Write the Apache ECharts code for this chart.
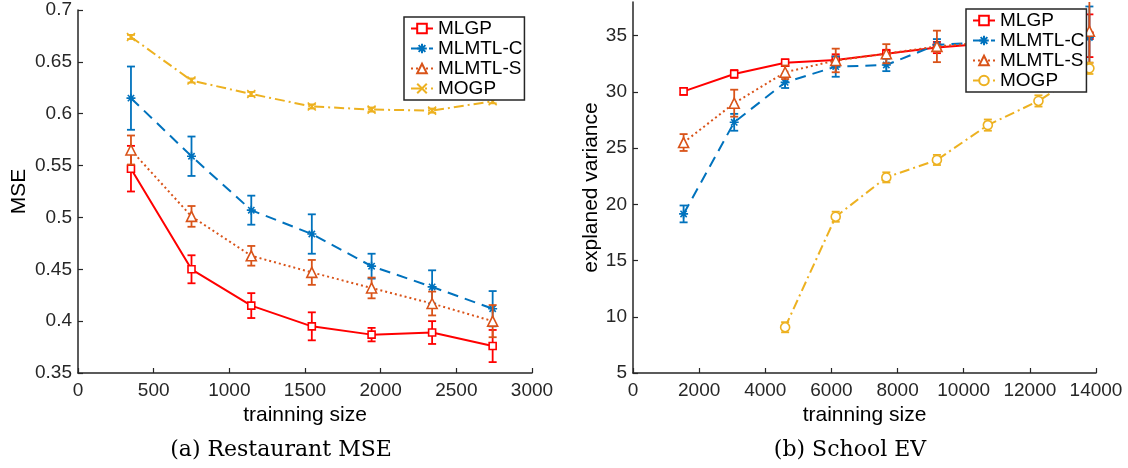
<!DOCTYPE html>
<html>
<head>
<meta charset="utf-8">
<script src="https://cdn.jsdelivr.net/npm/echarts@6/dist/echarts.min.js"></script>
<style>
  html, body { margin: 0; background: #fff; }
  #chart { width: 1128px; height: 468px; }
</style>
</head>
<body>
<div id="chart"></div>
<script>
// (a) Restaurant MSE
var restSize = [350, 750, 1145, 1545, 1940, 2340, 2740];
var restMLGP = [0.547, 0.450, 0.415, 0.395, 0.387, 0.389, 0.376];
var restMLGPErr = [0.022, 0.0135, 0.012, 0.0135, 0.0065, 0.011, 0.0155];
var restMLMTLC = [0.615, 0.559, 0.507, 0.484, 0.453, 0.433, 0.412];
var restMLMTLCErr = [0.0305, 0.019, 0.014, 0.019, 0.012, 0.016, 0.017];
var restMLMTLS = [0.565, 0.501, 0.463, 0.447, 0.432, 0.417, 0.400];
var restMLMTLSErr = [0.014, 0.010, 0.0095, 0.012, 0.010, 0.0115, 0.0155];
var restMOGP = [0.674, 0.632, 0.619, 0.607, 0.604, 0.603, 0.612];
var restMOGPErr = [0.002, 0.002, 0.002, 0.002, 0.002, 0.002, 0.002];

// (b) School EV
var schoolSize = [1530, 3060, 4600, 6130, 7660, 9190, 10730, 12260, 13800];
var schoolMLGP = [30.05, 31.6, 32.6, 32.85, 33.4, 33.95, 34.3, 34.6, 35.0];
var schoolMLGPErr = [0.3, 0.35, 0.3, 0.5, 0.35, 0.5, 0.4, 0.4, 1.9];
var schoolMLMTLC = [19.15, 27.3, 30.85, 32.25, 32.4, 34.2, 34.4, 34.6, 34.85];
var schoolMLMTLCErr = [0.75, 0.75, 0.5, 0.9, 0.55, 0.5, 0.3, 0.3, 2.75];
var schoolMLMTLS = [25.5, 29.0, 31.75, 32.8, 33.4, 34.05, 34.4, 34.7, 35.4];
var schoolMLMTLSErr = [0.75, 1.2, 0.6, 1.05, 0.85, 1.4, 0.3, 0.3, 2.8];
var schoolMOGP = [null, null, 9.07, 18.9, 22.4, 23.95, 27.05, 29.2, 32.1];
var schoolMOGPErr = [null, null, 0.45, 0.45, 0.45, 0.45, 0.5, 0.5, 0.5];
var schoolYTicks = [5, 10, 15, 20, 25, 30, 35];

var methods = ['MLGP', 'MLMTL-C', 'MLMTL-S', 'MOGP'];

var FONT = '"Liberation Sans", Arial, Helvetica, sans-serif';
var AXIS_COLOR = '#262626';
var RED = '#FF0000', BLUE = '#0072BD', ORANGE = '#D95319', YELLOW = '#EDB120';
var STAR = 'path://M5,0L5,10M0,5L10,5M1.5,1.5L8.5,8.5M1.5,8.5L8.5,1.5';
var CROSS = 'path://M0,0L10,10M0,10L10,0';

function points(xs, ys) {
  var out = [];
  for (var i = 0; i < xs.length; i++) {
    if (ys[i] != null) out.push([xs[i], ys[i]]);
  }
  return out;
}

function bars(xs, ys, errs) {
  var out = [];
  for (var i = 0; i < xs.length; i++) {
    if (ys[i] != null) out.push([xs[i], ys[i] - errs[i], ys[i] + errs[i]]);
  }
  return out;
}

function plain(v) {
  return String(v);
}

function errorBar(color) {
  return function (params, api) {
    var x = api.value(0);
    var lo = api.coord([x, api.value(1)]);
    var hi = api.coord([x, api.value(2)]);
    var half = 4;
    var style = { stroke: color, lineWidth: 1.8 };
    return {
      type: 'group',
      children: [
        { type: 'line', shape: { x1: lo[0], y1: lo[1], x2: hi[0], y2: hi[1] }, style: style },
        { type: 'line', shape: { x1: lo[0] - half, y1: lo[1], x2: lo[0] + half, y2: lo[1] }, style: style },
        { type: 'line', shape: { x1: hi[0] - half, y1: hi[1], x2: hi[0] + half, y2: hi[1] }, style: style }
      ]
    };
  };
}

function lineSeries(name, grid, data, color, dash, symbol, size, z) {
  return {
    name: name,
    type: 'line',
    xAxisIndex: grid,
    yAxisIndex: grid,
    data: data,
    color: color,
    symbol: symbol,
    symbolSize: size,
    showAllSymbol: true,
    lineStyle: { color: color, width: 2, type: dash },
    itemStyle: { color: '#fff', borderColor: color, borderWidth: 1.6 },
    emphasis: { disabled: true },
    z: z
  };
}

function barSeries(name, grid, data, color, z) {
  return {
    name: name,
    type: 'custom',
    xAxisIndex: grid,
    yAxisIndex: grid,
    data: data,
    encode: { x: 0, y: [1, 2] },
    renderItem: errorBar(color),
    clip: true,
    silent: true,
    z: z
  };
}

function xAxis(grid, max, interval) {
  return {
    gridIndex: grid,
    type: 'value',
    min: 0,
    max: max,
    interval: interval,
    name: 'trainning size',
    nameLocation: 'middle',
    nameGap: 27,
    nameTextStyle: { fontSize: 21, fontFamily: FONT, color: '#000' },
    axisLine: { lineStyle: { color: AXIS_COLOR, width: 1.5 } },
    axisTick: { inside: true, length: 5, lineStyle: { color: AXIS_COLOR, width: 1.2 } },
    axisLabel: { fontSize: 19, fontFamily: FONT, color: AXIS_COLOR, margin: 8, formatter: plain },
    splitLine: { show: false }
  };
}

function legend(left, top, names) {
  return {
    left: left,
    top: top,
    orient: 'vertical',
    data: names,
    formatter: function (n) { return n.split('|')[0]; },
    backgroundColor: '#fff',
    borderColor: AXIS_COLOR,
    borderWidth: 1.5,
    borderRadius: 0,
    padding: [2, 2, 2, 6],
    itemWidth: 22,
    itemHeight: 12,
    itemGap: 1,
    selectedMode: false,
    textStyle: { fontSize: 19, lineHeight: 19, fontFamily: FONT, color: '#000' },
    z: 10
  };
}

var schoolNames = methods.map(function (m) { return m + '|b'; });

var myChart = echarts.init(document.getElementById('chart'));

var option = {
  animation: false,
  backgroundColor: '#fff',
  grid: [
    { left: 78, top: 10, width: 454, height: 363 },
    { left: 633, top: 2, width: 463, height: 371 }
  ],
  xAxis: [xAxis(0, 3000, 500), xAxis(1, 14000, 2000)],
  yAxis: [
    {
      gridIndex: 0,
      type: 'value',
      min: 0.35,
      max: 0.7,
      interval: 0.05,
      name: 'MSE',
      nameLocation: 'middle',
      nameGap: 48,
      nameTextStyle: { fontSize: 21, fontFamily: FONT, color: '#000' },
      axisLine: { lineStyle: { color: AXIS_COLOR, width: 1.5 } },
      axisTick: { inside: true, length: 5, lineStyle: { color: AXIS_COLOR, width: 1.2 } },
      axisLabel: { fontSize: 19, fontFamily: FONT, color: AXIS_COLOR, margin: 6, formatter: plain },
      splitLine: { show: false }
    },
    {
      gridIndex: 1,
      type: 'value',
      min: 5,
      max: 38,
      name: 'explaned variance',
      nameLocation: 'middle',
      nameGap: 31,
      nameTextStyle: { fontSize: 21, fontFamily: FONT, color: '#000' },
      axisLine: { lineStyle: { color: AXIS_COLOR, width: 1.5 } },
      axisTick: { inside: true, length: 5, customValues: schoolYTicks, lineStyle: { color: AXIS_COLOR, width: 1.2 } },
      axisLabel: { fontSize: 19, fontFamily: FONT, color: AXIS_COLOR, margin: 6, customValues: schoolYTicks, formatter: plain },
      splitLine: { show: false }
    }
  ],
  legend: [legend(404, 17, methods), legend(966, 9, schoolNames)],
  series: [
    lineSeries('MLGP', 0, points(restSize, restMLGP), RED, 'solid', 'rect', 7, 2),
    barSeries('MLGP err', 0, bars(restSize, restMLGP, restMLGPErr), RED, 2),
    lineSeries('MLMTL-C', 0, points(restSize, restMLMTLC), BLUE, [11, 7], STAR, 9, 3),
    barSeries('MLMTL-C err', 0, bars(restSize, restMLMTLC, restMLMTLCErr), BLUE, 3),
    lineSeries('MLMTL-S', 0, points(restSize, restMLMTLS), ORANGE, [2, 3], 'triangle', 10, 4),
    barSeries('MLMTL-S err', 0, bars(restSize, restMLMTLS, restMLMTLSErr), ORANGE, 4),
    lineSeries('MOGP', 0, points(restSize, restMOGP), YELLOW, [10, 4, 2, 4], CROSS, 8, 5),
    barSeries('MOGP err', 0, bars(restSize, restMOGP, restMOGPErr), YELLOW, 5),

    lineSeries('MLGP|b', 1, points(schoolSize, schoolMLGP), RED, 'solid', 'rect', 7, 2),
    barSeries('MLGP err b', 1, bars(schoolSize, schoolMLGP, schoolMLGPErr), RED, 2),
    lineSeries('MLMTL-C|b', 1, points(schoolSize, schoolMLMTLC), BLUE, [11, 7], STAR, 9, 3),
    barSeries('MLMTL-C err b', 1, bars(schoolSize, schoolMLMTLC, schoolMLMTLCErr), BLUE, 3),
    lineSeries('MLMTL-S|b', 1, points(schoolSize, schoolMLMTLS), ORANGE, [2, 3], 'triangle', 10, 4),
    barSeries('MLMTL-S err b', 1, bars(schoolSize, schoolMLMTLS, schoolMLMTLSErr), ORANGE, 4),
    lineSeries('MOGP|b', 1, points(schoolSize, schoolMOGP), YELLOW, [10, 4, 2, 4], 'circle', 9, 5),
    barSeries('MOGP err b', 1, bars(schoolSize, schoolMOGP, schoolMOGPErr), YELLOW, 5)
  ],
  graphic: [
    {
      type: 'text', x: 281, y: 450,
      style: { text: '(a) Restaurant MSE', font: '22px "DejaVu Serif", serif', fill: '#000', textAlign: 'center', textVerticalAlign: 'middle' }
    },
    {
      type: 'text', x: 850, y: 450,
      style: { text: '(b) School EV', font: '22px "DejaVu Serif", serif', fill: '#000', textAlign: 'center', textVerticalAlign: 'middle' }
    }
  ]
};

myChart.setOption(option);
</script>
</body>
</html>
